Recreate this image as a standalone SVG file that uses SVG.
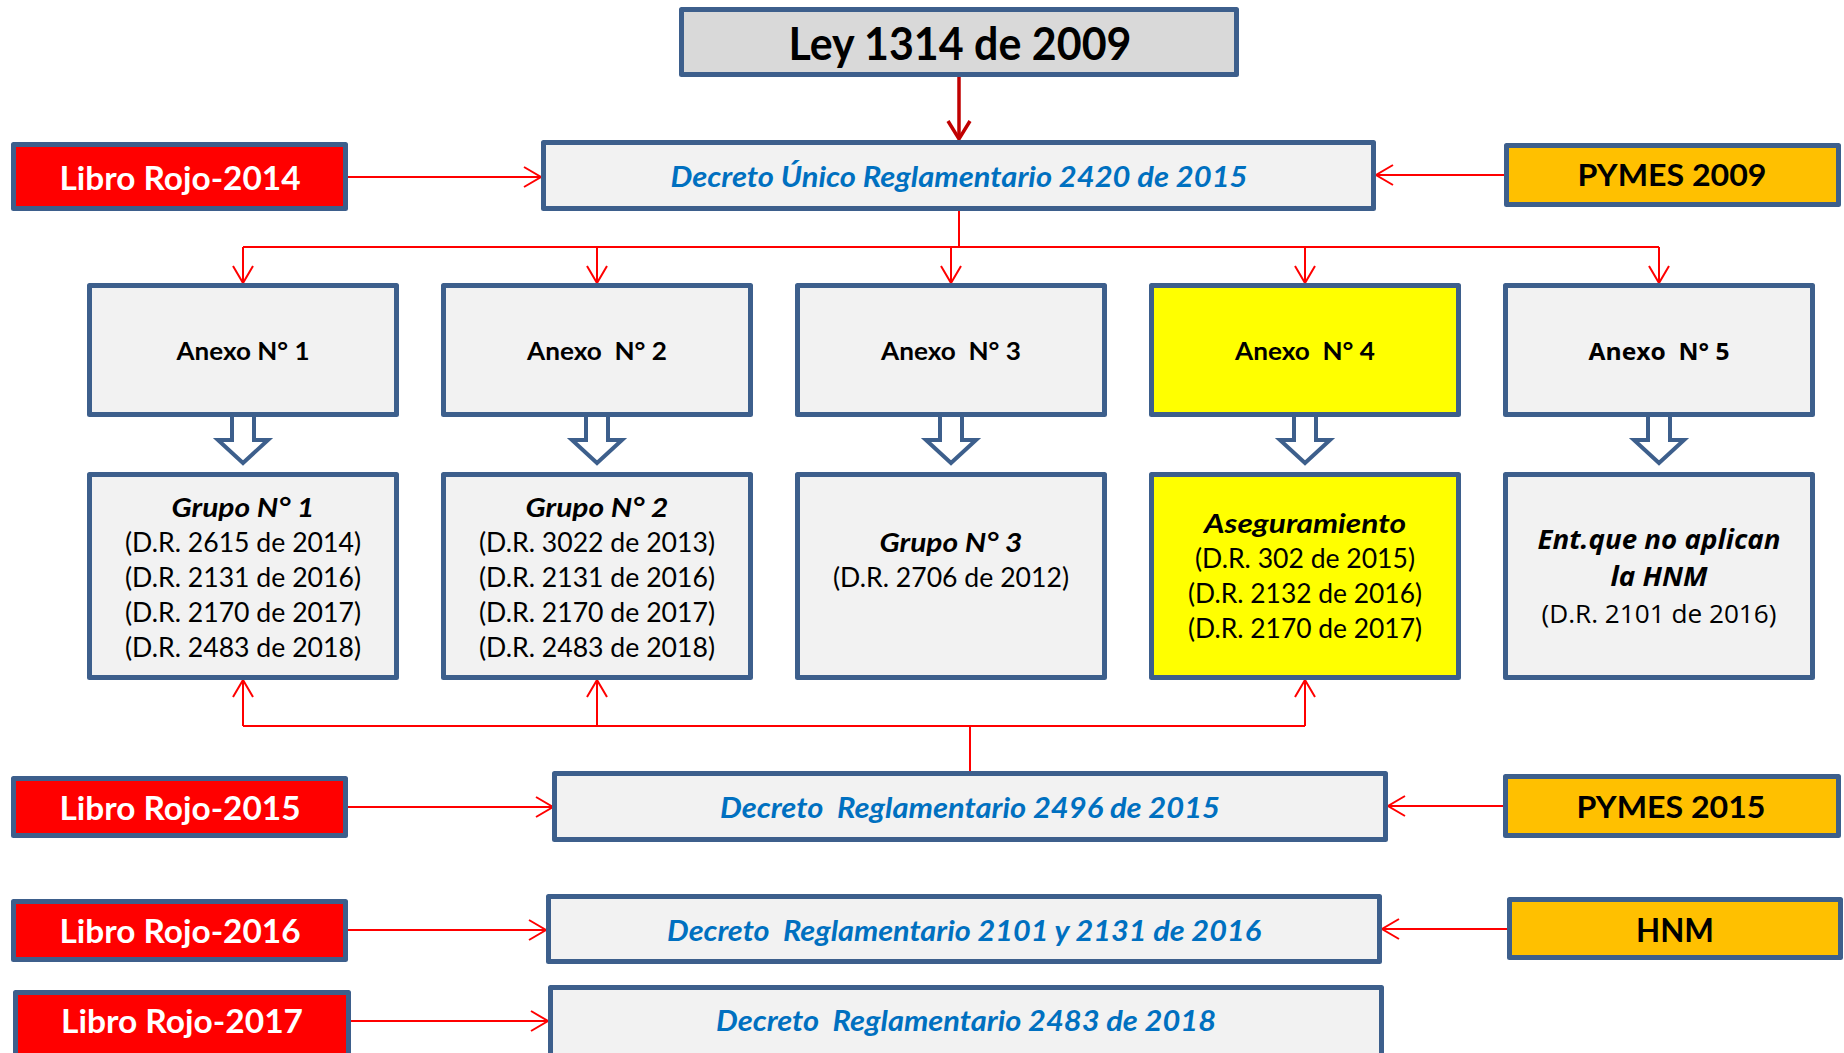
<svg xmlns="http://www.w3.org/2000/svg" width="1844" height="1053" viewBox="0 0 1844 1053">
<defs>
<style>
.box{stroke:#3d5f8c;stroke-width:5;stroke-linejoin:round}
.gray{fill:#f2f2f2}
.ley{fill:#d9d9d9}
.red{fill:#ff0000}
.org{fill:#ffc000}
.yel{fill:#ffff00}
.t{font-family:Lato,"Liberation Sans",sans-serif;text-anchor:middle}
.os{font-family:"Open Sans","Liberation Sans",sans-serif;text-anchor:middle}
.b{font-weight:bold}
.i{font-style:italic}
.w{fill:#ffffff}
.k{fill:#000000}
.blue{fill:#0070c0}
.con{fill:none;stroke:#ff0000;stroke-width:2}
.hol{fill:#ffffff;stroke:#3d5f8c;stroke-width:4;stroke-linejoin:miter}
</style>
<marker id="ar" markerUnits="userSpaceOnUse" markerWidth="22" markerHeight="24" refX="18" refY="11" orient="auto" overflow="visible">
<path d="M1,1 L18,11 L1,21" fill="none" stroke="#ff0000" stroke-width="2"/>
</marker>
<marker id="ard" markerUnits="userSpaceOnUse" markerWidth="24" markerHeight="26" refX="19" refY="12" orient="auto" overflow="visible">
<path d="M1,1 L19,12 L1,23" fill="none" stroke="#c00000" stroke-width="3.5"/>
</marker>
</defs>

<g id="hollow-arrows">
<path class="hol" d="M232,414 V440 H218 L243,463 L268,440 H254 V414"/>
<path class="hol" d="M586,414 V440 H572 L597,463 L622,440 H608 V414"/>
<path class="hol" d="M940,414 V440 H926 L951,463 L976,440 H962 V414"/>
<path class="hol" d="M1294,414 V440 H1280 L1305,463 L1330,440 H1316 V414"/>
<path class="hol" d="M1648,414 V440 H1634 L1659,463 L1684,440 H1670 V414"/>
</g>

<g id="connectors">
<path d="M959,77 V139" fill="none" stroke="#c00000" stroke-width="3.5" marker-end="url(#ard)"/>
<path class="con" d="M959,211 V247"/>
<path class="con" d="M243,247 H1659"/>
<path class="con" d="M243,247 V283" marker-end="url(#ar)"/>
<path class="con" d="M597,247 V283" marker-end="url(#ar)"/>
<path class="con" d="M951,247 V283" marker-end="url(#ar)"/>
<path class="con" d="M1305,247 V283" marker-end="url(#ar)"/>
<path class="con" d="M1659,247 V283" marker-end="url(#ar)"/>
<path class="con" d="M970,771 V726"/>
<path class="con" d="M243,726 H1305"/>
<path class="con" d="M243,726 V680" marker-end="url(#ar)"/>
<path class="con" d="M597,726 V680" marker-end="url(#ar)"/>
<path class="con" d="M1305,726 V680" marker-end="url(#ar)"/>
<path class="con" d="M348,177 H541" marker-end="url(#ar)"/>
<path class="con" d="M1504,175 H1376" marker-end="url(#ar)"/>
<path class="con" d="M348,807 H553" marker-end="url(#ar)"/>
<path class="con" d="M1503,806 H1388" marker-end="url(#ar)"/>
<path class="con" d="M348,930 H546" marker-end="url(#ar)"/>
<path class="con" d="M1507,929 H1382" marker-end="url(#ar)"/>
<path class="con" d="M351,1021 H548" marker-end="url(#ar)"/>
</g>

<g id="ley">
<rect class="box ley" x="681.5" y="9.5" width="555" height="65"/>
<text class="t b k" x="960" y="60" font-size="45" textLength="343" lengthAdjust="spacingAndGlyphs">Ley 1314 de 2009</text>
</g>

<g id="decreto-unico">
<rect class="box gray" x="543.5" y="142.5" width="830" height="66"/>
<text class="t b i blue" x="959" y="187" font-size="28" textLength="577" lengthAdjust="spacingAndGlyphs">Decreto Único Reglamentario 2420 de 2015</text>
</g>

<g id="libro-2014">
<rect class="box red" x="13.5" y="144.5" width="332" height="64"/>
<text class="t b w" x="180" y="190" font-size="32" textLength="241" lengthAdjust="spacingAndGlyphs">Libro Rojo-2014</text>
</g>

<g id="pymes-2009">
<rect class="box org" x="1506.5" y="145.5" width="332" height="59"/>
<text class="t b k" x="1672" y="186" font-size="31" textLength="189" lengthAdjust="spacingAndGlyphs">PYMES 2009</text>
</g>

<g id="anexo-1">
<rect class="box gray" x="89.5" y="285.5" width="307" height="129"/>
<text class="t b k" x="243" y="360" font-size="25" textLength="133" lengthAdjust="spacingAndGlyphs">Anexo N° 1</text>
</g>
<g id="anexo-2">
<rect class="box gray" x="443.5" y="285.5" width="307" height="129"/>
<text class="t b k" x="597" y="360" font-size="25" textLength="140" lengthAdjust="spacingAndGlyphs" xml:space="preserve">Anexo  N° 2</text>
</g>
<g id="anexo-3">
<rect class="box gray" x="797.5" y="285.5" width="307" height="129"/>
<text class="t b k" x="951" y="360" font-size="25" textLength="140" lengthAdjust="spacingAndGlyphs" xml:space="preserve">Anexo  N° 3</text>
</g>
<g id="anexo-4">
<rect class="box yel" x="1151.5" y="285.5" width="307" height="129"/>
<text class="t b k" x="1305" y="360" font-size="25" textLength="140" lengthAdjust="spacingAndGlyphs" xml:space="preserve">Anexo  N° 4</text>
</g>
<g id="anexo-5">
<rect class="box gray" x="1505.5" y="285.5" width="307" height="129"/>
<text class="os b k" x="1659" y="360" font-size="24" textLength="141" lengthAdjust="spacingAndGlyphs" xml:space="preserve">Anexo  N° 5</text>
</g>

<g id="grupo-1">
<rect class="box gray" x="89.5" y="474.5" width="307" height="203"/>
<text class="t b i k" x="243" y="517" font-size="27" textLength="143" lengthAdjust="spacingAndGlyphs">Grupo N° 1</text>
<text class="t k" x="243" y="552" font-size="26" textLength="236" lengthAdjust="spacingAndGlyphs">(D.R. 2615 de 2014)</text>
<text class="t k" x="243" y="587" font-size="26" textLength="236" lengthAdjust="spacingAndGlyphs">(D.R. 2131 de 2016)</text>
<text class="t k" x="243" y="622" font-size="26" textLength="236" lengthAdjust="spacingAndGlyphs">(D.R. 2170 de 2017)</text>
<text class="t k" x="243" y="657" font-size="26" textLength="236" lengthAdjust="spacingAndGlyphs">(D.R. 2483 de 2018)</text>
</g>
<g id="grupo-2">
<rect class="box gray" x="443.5" y="474.5" width="307" height="203"/>
<text class="t b i k" x="597" y="517" font-size="27" textLength="143" lengthAdjust="spacingAndGlyphs">Grupo N° 2</text>
<text class="t k" x="597" y="552" font-size="26" textLength="236" lengthAdjust="spacingAndGlyphs">(D.R. 3022 de 2013)</text>
<text class="t k" x="597" y="587" font-size="26" textLength="236" lengthAdjust="spacingAndGlyphs">(D.R. 2131 de 2016)</text>
<text class="t k" x="597" y="622" font-size="26" textLength="236" lengthAdjust="spacingAndGlyphs">(D.R. 2170 de 2017)</text>
<text class="t k" x="597" y="657" font-size="26" textLength="236" lengthAdjust="spacingAndGlyphs">(D.R. 2483 de 2018)</text>
</g>
<g id="grupo-3">
<rect class="box gray" x="797.5" y="474.5" width="307" height="203"/>
<text class="t b i k" x="951" y="552" font-size="27" textLength="143" lengthAdjust="spacingAndGlyphs">Grupo N° 3</text>
<text class="t k" x="951" y="587" font-size="26" textLength="236" lengthAdjust="spacingAndGlyphs">(D.R. 2706 de 2012)</text>
</g>
<g id="aseguramiento">
<rect class="box yel" x="1151.5" y="474.5" width="307" height="203"/>
<text class="t b i k" x="1305" y="533" font-size="27" textLength="202" lengthAdjust="spacingAndGlyphs">Aseguramiento</text>
<text class="t k" x="1305" y="568" font-size="26" textLength="220" lengthAdjust="spacingAndGlyphs">(D.R. 302 de 2015)</text>
<text class="t k" x="1305" y="603" font-size="26" textLength="234" lengthAdjust="spacingAndGlyphs">(D.R. 2132 de 2016)</text>
<text class="t k" x="1305" y="638" font-size="26" textLength="234" lengthAdjust="spacingAndGlyphs">(D.R. 2170 de 2017)</text>
</g>
<g id="ent-no-aplican">
<rect class="box gray" x="1505.5" y="474.5" width="307" height="203"/>
<text class="os b i k" x="1659" y="549" font-size="26" textLength="243" lengthAdjust="spacingAndGlyphs">Ent.que no aplican</text>
<text class="os b i k" x="1659" y="586" font-size="26" textLength="97" lengthAdjust="spacingAndGlyphs">la HNM</text>
<text class="os k" x="1659" y="623" font-size="25" textLength="235" lengthAdjust="spacingAndGlyphs">(D.R. 2101 de 2016)</text>
</g>

<g id="decreto-2496">
<rect class="box gray" x="554.5" y="773.5" width="831" height="66"/>
<text class="t b i blue" x="970" y="818" font-size="28" textLength="500" lengthAdjust="spacingAndGlyphs" xml:space="preserve">Decreto  Reglamentario 2496 de 2015</text>
</g>
<g id="libro-2015">
<rect class="box red" x="13.5" y="778.5" width="332" height="57"/>
<text class="t b w" x="180" y="820" font-size="32" textLength="241" lengthAdjust="spacingAndGlyphs">Libro Rojo-2015</text>
</g>
<g id="pymes-2015">
<rect class="box org" x="1505.5" y="776.5" width="333" height="59"/>
<text class="t b k" x="1671" y="818" font-size="31" textLength="189" lengthAdjust="spacingAndGlyphs">PYMES 2015</text>
</g>

<g id="decreto-2101">
<rect class="box gray" x="548.5" y="896.5" width="831" height="65"/>
<text class="t b i blue" x="964" y="941" font-size="28" textLength="594" lengthAdjust="spacingAndGlyphs" xml:space="preserve">Decreto  Reglamentario 2101 y 2131 de 2016</text>
</g>
<g id="libro-2016">
<rect class="box red" x="13.5" y="901.5" width="332" height="58"/>
<text class="t b w" x="180" y="943" font-size="32" textLength="241" lengthAdjust="spacingAndGlyphs">Libro Rojo-2016</text>
</g>
<g id="hnm">
<rect class="box org" x="1509.5" y="899.5" width="331" height="58"/>
<text class="t b k" x="1675" y="942" font-size="32" textLength="78" lengthAdjust="spacingAndGlyphs">HNM</text>
</g>

<g id="decreto-2483">
<rect class="box gray" x="550.5" y="987.5" width="831" height="70"/>
<text class="t b i blue" x="966" y="1031" font-size="28" textLength="500" lengthAdjust="spacingAndGlyphs" xml:space="preserve">Decreto  Reglamentario 2483 de 2018</text>
</g>
<g id="libro-2017">
<rect class="box red" x="15.5" y="992.5" width="333" height="65"/>
<text class="t b w" x="182" y="1033" font-size="32" textLength="242" lengthAdjust="spacingAndGlyphs">Libro Rojo-2017</text>
</g>
</svg>
